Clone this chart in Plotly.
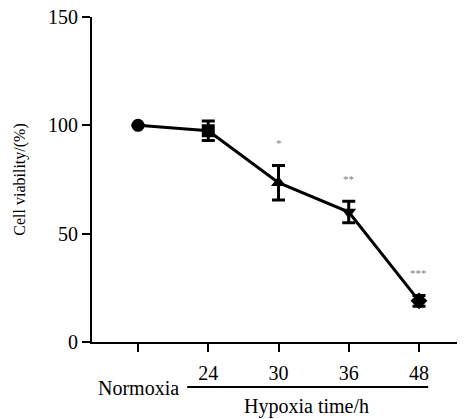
import plotly.graph_objects as go

categories = ["Normoxia", "24", "30", "36", "48"]
viability = [100, 97.5, 73.5, 60, 19]
sd = [0, 4.5, 8, 5, 2.5]
stars = ["", "", "*", "**", "***"]
marker_symbols = ["circle", "square", "triangle-up", "triangle-down", "diamond"]
y_ticks = [0, 50, 100, 150]

xpos = list(range(len(categories)))
FONT = "Liberation Serif"

fig = go.Figure()
fig.add_trace(go.Scatter(
    x=xpos, y=viability,
    mode="lines+markers",
    line=dict(color="black", width=3),
    marker=dict(symbol=marker_symbols, size=13, color="black"),
    error_y=dict(type="data", array=sd, visible=True, color="black", thickness=3, width=6.5),
    showlegend=False,
))

for xi, v, e, s in zip(xpos, viability, sd, stars):
    if s:
        fig.add_annotation(x=xi, y=v + e, text=s, showarrow=False, yshift=22,
                           font=dict(family=FONT, size=11, color="#808080"))

fig.add_annotation(x=xpos[0], y=0, yref="paper", text=categories[0], showarrow=False,
                   yshift=-59, font=dict(family=FONT, size=20, color="black"))
fig.add_shape(type="line", xref="x", yref="paper", x0=0.70, x1=4.13, y0=-0.1385, y1=-0.1385,
              line=dict(color="black", width=2))
fig.add_annotation(x=2.4, y=0, yref="paper", text="Hypoxia time/h", showarrow=False,
                   yshift=-78, font=dict(family=FONT, size=20, color="black"))

fig.update_layout(
    width=457, height=411,
    margin=dict(l=84, r=0, t=9, b=77),
    paper_bgcolor="white", plot_bgcolor="white",
    font=dict(family=FONT, size=20, color="black"),
)
fig.update_xaxes(
    range=[-0.655, 4.655], automargin=False,
    tickvals=xpos, ticktext=[""] + categories[1:],
    ticks="outside", ticklen=8, tickwidth=2, tickcolor="black",
    showline=True, linewidth=2, linecolor="black",
    showgrid=False, zeroline=False,
    ticklabelstandoff=4,
    tickfont=dict(family=FONT, size=20, color="black"),
)
fig.update_yaxes(
    range=[0, 150], tickvals=y_ticks, automargin=False,
    ticks="outside", ticklen=8, tickwidth=2, tickcolor="black",
    showline=True, linewidth=2, linecolor="black",
    showgrid=False, zeroline=False, ticklabeloverflow="allow",
    tickfont=dict(family=FONT, size=20, color="black"),
    title=dict(text="Cell viability/(%)", font=dict(family=FONT, size=16, color="black"), standoff=18),
)

fig.write_html("out.html")
